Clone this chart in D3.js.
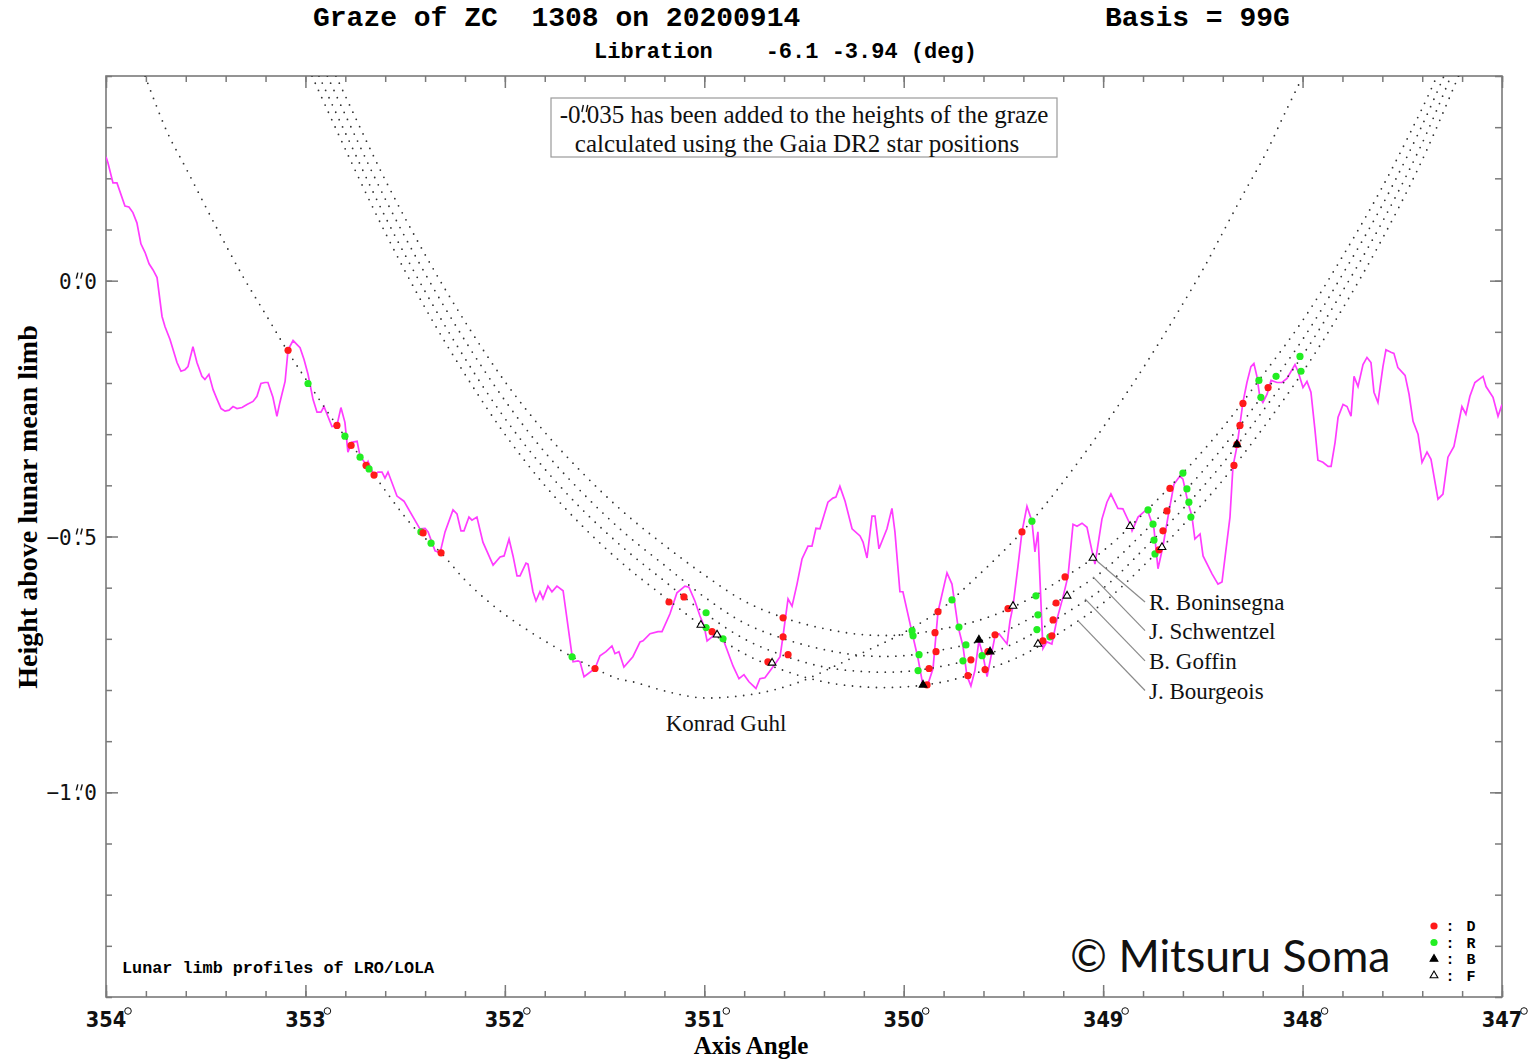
<!DOCTYPE html>
<html>
<head>
<meta charset="utf-8">
<script src="https://d3js.org/d3.v7.min.js"></script>
<style>
  body { margin: 0; background: #fff; }
  .mono { font-family: "Liberation Mono", "Courier New", monospace; font-weight: bold; }
  .serif { font-family: "Liberation Serif", "Times New Roman", serif; }
</style>
</head>
<body>
<script>
// ---- data (axis angle in deg, height in arcsec) ----
var limbProfile = [
  [354.000,0.242],[353.990,0.230],[353.965,0.191],[353.945,0.191],[353.905,0.146],[353.885,0.144],[353.865,0.133],
  [353.845,0.113],[353.825,0.072],[353.804,0.055],[353.784,0.033],[353.764,0.021],[353.744,0.006],[353.719,-0.070],
  [353.704,-0.090],[353.679,-0.115],[353.644,-0.160],[353.624,-0.177],[353.604,-0.174],[353.589,-0.168],[353.564,-0.129],
  [353.544,-0.160],[353.519,-0.187],[353.504,-0.193],[353.484,-0.183],[353.463,-0.213],[353.443,-0.232],[353.423,-0.250],
  [353.403,-0.255],[353.383,-0.253],[353.363,-0.246],[353.343,-0.250],[353.318,-0.248],[353.293,-0.242],[353.263,-0.236],
  [353.243,-0.226],[353.223,-0.201],[353.203,-0.199],[353.188,-0.199],[353.163,-0.228],[353.143,-0.265],[353.128,-0.238],
  [353.102,-0.197],[353.087,-0.135],[353.062,-0.117],[353.027,-0.131],[353.007,-0.154],[352.987,-0.183],[352.962,-0.232],
  [352.942,-0.257],[352.922,-0.257],[352.907,-0.246],[352.867,-0.285],[352.842,-0.283],[352.822,-0.248],[352.802,-0.277],
  [352.787,-0.335],[352.767,-0.316],[352.741,-0.314],[352.726,-0.343],[352.696,-0.359],[352.686,-0.353],[352.671,-0.368],
  [352.656,-0.380],[352.636,-0.374],[352.616,-0.374],[352.601,-0.386],[352.586,-0.374],[352.541,-0.421],[352.506,-0.431],
  [352.426,-0.485],[352.400,-0.484],[352.385,-0.491],[352.350,-0.528],[352.325,-0.532],[352.300,-0.491],[352.260,-0.448],
  [352.240,-0.456],[352.220,-0.489],[352.205,-0.489],[352.180,-0.462],[352.165,-0.468],[352.140,-0.462],[352.110,-0.511],
  [352.059,-0.556],[352.024,-0.540],[352.004,-0.538],[351.979,-0.505],[351.959,-0.538],[351.939,-0.577],[351.924,-0.577],
  [351.894,-0.552],[351.884,-0.554],[351.859,-0.608],[351.844,-0.626],[351.824,-0.608],[351.809,-0.622],[351.784,-0.597],
  [351.764,-0.608],[351.739,-0.597],[351.708,-0.606],[351.663,-0.733],[351.658,-0.745],[351.633,-0.743],[351.623,-0.745],
  [351.603,-0.774],[351.548,-0.758],[351.523,-0.733],[351.493,-0.725],[351.463,-0.714],[351.448,-0.729],[351.428,-0.725],
  [351.403,-0.755],[351.358,-0.735],[351.322,-0.706],[351.307,-0.704],[351.272,-0.690],[351.232,-0.686],[351.212,-0.686],
  [351.172,-0.651],[351.137,-0.610],[351.097,-0.597],[351.077,-0.599],[351.047,-0.626],[351.022,-0.655],[351.001,-0.675],
  [350.986,-0.704],[350.961,-0.696],[350.936,-0.686],[350.906,-0.700],[350.856,-0.753],[350.826,-0.778],[350.801,-0.770],
  [350.776,-0.784],[350.741,-0.797],[350.721,-0.778],[350.696,-0.776],[350.645,-0.749],[350.620,-0.735],[350.605,-0.694],
  [350.595,-0.665],[350.580,-0.622],[350.560,-0.636],[350.535,-0.593],[350.510,-0.544],[350.480,-0.519],[350.460,-0.519],
  [350.440,-0.484],[350.420,-0.485],[350.380,-0.433],[350.355,-0.425],[350.340,-0.423],[350.320,-0.402],[350.294,-0.431],
  [350.259,-0.485],[350.219,-0.499],[350.204,-0.511],[350.184,-0.542],[350.159,-0.460],[350.144,-0.460],[350.124,-0.524],
  [350.084,-0.485],[350.059,-0.445],[350.044,-0.491],[350.019,-0.608],[350.004,-0.608],[349.958,-0.688],[349.928,-0.739],
  [349.903,-0.792],[349.878,-0.788],[349.853,-0.758],[349.828,-0.647],[349.783,-0.571],[349.758,-0.593],[349.728,-0.675],
  [349.703,-0.714],[349.683,-0.772],[349.663,-0.792],[349.643,-0.762],[349.623,-0.704],[349.602,-0.733],[349.582,-0.774],
  [349.542,-0.694],[349.522,-0.690],[349.482,-0.710],[349.467,-0.665],[349.452,-0.636],[349.427,-0.558],[349.407,-0.491],
  [349.382,-0.441],[349.357,-0.470],[349.342,-0.530],[349.327,-0.491],[349.302,-0.719],[349.282,-0.706],[349.257,-0.710],
  [349.231,-0.661],[349.201,-0.618],[349.176,-0.577],[349.151,-0.476],[349.131,-0.480],[349.106,-0.474],[349.081,-0.482],
  [349.056,-0.528],[349.041,-0.554],[349.006,-0.466],[348.981,-0.433],[348.961,-0.417],[348.926,-0.445],[348.901,-0.446],
  [348.865,-0.476],[348.855,-0.489],[348.825,-0.462],[348.790,-0.450],[348.775,-0.452],[348.745,-0.485],[348.725,-0.563],
  [348.700,-0.519],[348.675,-0.462],[348.645,-0.398],[348.615,-0.382],[348.600,-0.388],[348.575,-0.433],[348.555,-0.460],
  [348.540,-0.505],[348.514,-0.495],[348.499,-0.538],[348.454,-0.573],[348.424,-0.593],[348.404,-0.589],[348.364,-0.462],
  [348.349,-0.363],[348.329,-0.324],[348.314,-0.281],[348.299,-0.238],[348.279,-0.199],[348.259,-0.168],[348.244,-0.162],
  [348.229,-0.187],[348.214,-0.228],[348.199,-0.238],[348.178,-0.222],[348.158,-0.195],[348.128,-0.199],[348.103,-0.199],
  [348.078,-0.191],[348.038,-0.164],[348.023,-0.177],[347.998,-0.209],[347.978,-0.197],[347.958,-0.218],[347.938,-0.291],
  [347.923,-0.351],[347.898,-0.355],[347.872,-0.363],[347.857,-0.363],[347.837,-0.316],[347.822,-0.267],[347.797,-0.242],
  [347.777,-0.246],[347.757,-0.265],[347.742,-0.187],[347.722,-0.207],[347.697,-0.164],[347.677,-0.150],[347.657,-0.160],
  [347.642,-0.218],[347.622,-0.238],[347.597,-0.168],[347.582,-0.135],[347.557,-0.140],[347.542,-0.142],[347.522,-0.170],
  [347.486,-0.185],[347.466,-0.222],[347.446,-0.275],[347.421,-0.300],[347.401,-0.355],[347.376,-0.335],[347.356,-0.349],
  [347.321,-0.427],[347.296,-0.417],[347.271,-0.345],[347.241,-0.324],[347.201,-0.246],[347.181,-0.261],[347.161,-0.226],
  [347.136,-0.199],[347.095,-0.187],[347.080,-0.207],[347.045,-0.228],[347.020,-0.265],[347.000,-0.242]
];

var guhlPath = [
  [353.804,0.400],[353.694,0.291],[353.594,0.216],[353.453,0.109],[353.313,0.008],[353.193,-0.070],[353.092,-0.136],
  [352.987,-0.199],[352.842,-0.283],[352.726,-0.343],[352.656,-0.380],[352.461,-0.480],[352.320,-0.532],[352.190,-0.589],
  [352.039,-0.641],[351.874,-0.686],[351.663,-0.735],[351.548,-0.758],[351.433,-0.778],[351.358,-0.784],[351.187,-0.803],
  [351.022,-0.815],[350.856,-0.813],[350.686,-0.803],[350.520,-0.784],[350.355,-0.755],[350.184,-0.723],[350.019,-0.692],
  [349.828,-0.647],[349.753,-0.622],[349.407,-0.491],[349.151,-0.368],[348.830,-0.189],[348.514,0.012],[348.414,0.084],
  [348.299,0.168],[348.188,0.246],[348.088,0.328],[348.003,0.396]
];

var boninsegnaPath = [
  [352.847,0.400],[352.8,0.361],[352.6,0.197],[352.4,0.051],[352.2,-0.080],[352.0,-0.197],[351.8,-0.296],[351.6,-0.380],
  [351.4,-0.454],[351.2,-0.517],[351.0,-0.575],[350.8,-0.626],[350.6,-0.659],[350.4,-0.680],[350.2,-0.692],[350.0,-0.692],
  [349.8,-0.680],[349.6,-0.661],[349.4,-0.628],[349.2,-0.581],[349.0,-0.528],[348.8,-0.456],[348.6,-0.376],[348.4,-0.287],
  [348.2,-0.185],[348.0,-0.078],[347.8,0.047],[347.6,0.183],[347.4,0.337],[347.326,0.400]
];
var schwentzelPath = [
  [352.890,0.400],[352.8,0.324],[352.6,0.160],[352.4,0.014],[352.2,-0.117],[352.0,-0.234],[351.8,-0.335],[351.6,-0.419],
  [351.4,-0.493],[351.2,-0.556],[351.0,-0.618],[350.8,-0.669],[350.6,-0.700],[350.4,-0.721],[350.2,-0.733],[350.0,-0.733],
  [349.8,-0.721],[349.6,-0.702],[349.4,-0.667],[349.2,-0.620],[349.0,-0.567],[348.8,-0.493],[348.6,-0.415],[348.4,-0.326],
  [348.2,-0.224],[348.0,-0.115],[347.8,0.012],[347.6,0.148],[347.4,0.304],[347.291,0.400]
];
var goffinPath = [
  [352.932,0.400],[352.8,0.289],[352.6,0.125],[352.4,-0.021],[352.2,-0.152],[352.0,-0.269],[351.8,-0.368],[351.6,-0.452],
  [351.4,-0.524],[351.2,-0.587],[351.0,-0.649],[350.8,-0.700],[350.6,-0.733],[350.4,-0.755],[350.2,-0.764],[350.0,-0.764],
  [349.8,-0.753],[349.6,-0.733],[349.4,-0.700],[349.2,-0.653],[349.0,-0.601],[348.8,-0.526],[348.6,-0.446],[348.4,-0.357],
  [348.2,-0.255],[348.0,-0.146],[347.8,-0.021],[347.6,0.115],[347.4,0.269],[347.256,0.400]
];
var bourgeoisPath = [
  [352.967,0.400],[352.8,0.257],[352.6,0.094],[352.4,-0.053],[352.2,-0.183],[352.0,-0.300],[351.8,-0.400],[351.6,-0.484],
  [351.4,-0.556],[351.2,-0.618],[351.0,-0.678],[350.8,-0.729],[350.6,-0.762],[350.4,-0.784],[350.2,-0.794],[350.0,-0.794],
  [349.8,-0.784],[349.6,-0.762],[349.4,-0.731],[349.2,-0.684],[349.0,-0.630],[348.8,-0.558],[348.6,-0.478],[348.4,-0.390],
  [348.2,-0.289],[348.0,-0.179],[347.8,-0.055],[347.6,0.082],[347.4,0.236],[347.218,0.400]
];

var observerNames = ["R. Boninsegna", "J. Schwentzel", "B. Goffin", "J. Bourgeois"];
var leaderFrom = [[349.031,-0.548],[349.051,-0.579],[349.091,-0.622],[349.126,-0.665]];
var leaderTo = [[348.790,-0.628],[348.790,-0.684],[348.790,-0.743],[348.790,-0.801]];

// event: [axis angle, height, type]  D disappearance, R reappearance, B blink, F flash
var events = [
  [353.087,-0.136,"D"],[352.987,-0.201,"R"],[352.842,-0.283,"D"],[352.802,-0.304,"R"],[352.771,-0.322,"D"],
  [352.726,-0.345,"R"],[352.696,-0.361,"D"],[352.681,-0.368,"R"],[352.656,-0.380,"D"],[352.421,-0.491,"R"],
  [352.410,-0.493,"D"],[352.370,-0.513,"R"],[352.320,-0.532,"D"],[351.663,-0.735,"R"],[351.548,-0.758,"D"],
  [351.177,-0.628,"D"],[351.102,-0.618,"D"],[350.991,-0.649,"R"],[351.017,-0.673,"F"],[350.991,-0.678,"R"],
  [350.961,-0.686,"D"],[350.936,-0.692,"F"],[350.906,-0.700,"R"],[350.605,-0.659,"D"],[350.605,-0.696,"D"],
  [350.580,-0.731,"D"],[350.681,-0.745,"D"],[350.660,-0.747,"F"],[349.958,-0.684,"R"],[349.953,-0.694,"R"],
  [349.923,-0.731,"R"],[349.928,-0.762,"R"],[349.883,-0.790,"D"],[349.903,-0.790,"B"],[349.873,-0.758,"D"],
  [349.838,-0.725,"D"],[349.843,-0.688,"D"],[349.828,-0.647,"D"],[349.758,-0.624,"R"],[349.723,-0.677,"R"],
  [349.688,-0.712,"R"],[349.703,-0.743,"R"],[349.678,-0.772,"D"],[349.663,-0.741,"D"],[349.623,-0.702,"B"],
  [349.607,-0.733,"R"],[349.592,-0.760,"D"],[349.578,-0.725,"D"],[349.567,-0.725,"B"],[349.542,-0.692,"D"],
  [349.477,-0.641,"D"],[349.452,-0.636,"F"],[349.407,-0.491,"D"],[349.357,-0.470,"R"],[349.337,-0.616,"R"],
  [349.327,-0.653,"R"],[349.332,-0.682,"R"],[349.302,-0.704,"D"],[349.327,-0.710,"F"],[349.267,-0.696,"R"],
  [349.257,-0.694,"D"],[349.251,-0.663,"D"],[349.236,-0.630,"D"],[349.191,-0.579,"D"],[349.181,-0.616,"F"],
  [349.051,-0.542,"F"],[348.865,-0.480,"F"],[348.775,-0.448,"R"],[348.750,-0.476,"R"],[348.745,-0.507,"R"],
  [348.740,-0.534,"R"],[348.665,-0.406,"D"],[348.680,-0.450,"D"],[348.700,-0.489,"D"],[348.720,-0.526,"D"],
  [348.705,-0.521,"F"],[348.600,-0.376,"R"],[348.580,-0.407,"R"],[348.570,-0.433,"R"],[348.560,-0.462,"R"],
  [348.344,-0.361,"D"],[348.329,-0.320,"D"],[348.329,-0.320,"B"],[348.314,-0.283,"D"],[348.299,-0.240,"D"],
  [348.219,-0.195,"R"],[348.209,-0.228,"R"],[348.173,-0.209,"D"],[348.133,-0.187,"R"],[348.013,-0.148,"R"],
  [348.008,-0.177,"R"]
];

var xMajorTicks = [354, 353, 352, 351, 350, 349, 348, 347];
var yMajorTicks = [0, -0.5, -1.0];
var legendTypes = ["D", "R", "B", "F"];

// ---- chart ----
var W = 1540, H = 1060;
var plot = {left: 106, right: 1502, top: 76, bottom: 997};

var x = d3.scaleLinear().domain([354, 347]).range([plot.left, plot.right]);
var y = d3.scaleLinear().domain([0.4, -1.4]).range([plot.top, plot.bottom]);

var svg = d3.select("body").append("svg")
    .attr("width", W).attr("height", H);
svg.append("rect").attr("width", W).attr("height", H).attr("fill", "#fff");

svg.append("defs").append("clipPath").attr("id", "clip")
  .append("rect")
    .attr("x", plot.left).attr("y", plot.top)
    .attr("width", plot.right - plot.left).attr("height", plot.bottom - plot.top);

// the ″ sign sitting over a decimal point: two short strokes above char i of a text node
function arcsecMark(textSel, i, lift, len) {
  var box = textSel.node().getExtentOfChar(i);
  var cx = box.x + box.width / 2 + 1, top = box.y + lift;
  [-2.2, 2.2].forEach(function(off){
    svg.append("line")
        .attr("x1", cx + off + 1).attr("y1", top)
        .attr("x2", cx + off - 0.5).attr("y2", top + len)
        .attr("stroke", "#111").attr("stroke-width", 1.4);
  });
}

// titles
svg.append("text").attr("class", "mono").attr("x", 313).attr("y", 26)
    .attr("font-size", 28).style("white-space", "pre")
    .text("Graze of ZC  1308 on 20200914");
svg.append("text").attr("class", "mono").attr("x", 1105).attr("y", 26)
    .attr("font-size", 28).style("white-space", "pre")
    .text("Basis = 99G");
svg.append("text").attr("class", "mono").attr("x", 594).attr("y", 58)
    .attr("font-size", 22).style("white-space", "pre")
    .text("Libration    -6.1 -3.94 (deg)");

// ticks on all four sides
var xMinor = d3.range(0, 36).map(function(i){ return 347 + i * 0.2; });
var yMinor = d3.range(0, 19).map(function(i){ return -1.4 + i * 0.1; });

function tickGroup(axis, tx, ty) {
  var g = svg.append("g").attr("transform", "translate(" + tx + "," + ty + ")").call(axis);
  g.select(".domain").remove();
  g.selectAll("line").attr("stroke", "#7a7a7a").attr("stroke-width", 1.5);
  g.selectAll("text").remove();
  return g;
}
tickGroup(d3.axisBottom(x).tickValues(xMinor).tickSize(-6), 0, plot.bottom);
tickGroup(d3.axisBottom(x).tickValues(xMajorTicks).tickSize(-12), 0, plot.bottom);
tickGroup(d3.axisTop(x).tickValues(xMinor).tickSize(-6), 0, plot.top);
tickGroup(d3.axisTop(x).tickValues(xMajorTicks).tickSize(-12), 0, plot.top);
tickGroup(d3.axisLeft(y).tickValues(yMinor).tickSize(-6), plot.left, 0);
tickGroup(d3.axisLeft(y).tickValues(yMajorTicks).tickSize(-12), plot.left, 0);
tickGroup(d3.axisRight(y).tickValues(yMinor).tickSize(-7), plot.right, 0);
tickGroup(d3.axisRight(y).tickValues(yMajorTicks).tickSize(-12), plot.right, 0);

svg.append("rect")
    .attr("x", plot.left).attr("y", plot.top)
    .attr("width", plot.right - plot.left).attr("height", plot.bottom - plot.top)
    .attr("fill", "none").attr("stroke", "#7a7a7a").attr("stroke-width", 1.6);

// x tick labels with degree sign
xMajorTicks.forEach(function(v){
  svg.append("text")
      .attr("x", x(v)).attr("y", 1027)
      .attr("text-anchor", "middle")
      .attr("font-family", "'Liberation Sans Narrow', 'DejaVu Sans Condensed', sans-serif")
      .attr("font-weight", "bold").attr("font-size", 21.5)
      .attr("fill", "#111")
      .text(v);
  svg.append("circle")
      .attr("cx", x(v) + 22).attr("cy", 1011).attr("r", 3.3)
      .attr("fill", "none").attr("stroke", "#111").attr("stroke-width", 1);
});

// y tick labels, arcsec mark above the decimal point
yMajorTicks.forEach(function(v){
  var s = (v < 0 ? "\u2212" : "") + d3.format(".1f")(Math.abs(v));
  var t = svg.append("text")
      .attr("x", 97).attr("y", y(v) + 8)
      .attr("text-anchor", "end")
      .attr("font-family", "'DejaVu Sans Mono', monospace")
      .attr("font-size", 21).attr("fill", "#111")
      .text(s);
  arcsecMark(t, s.indexOf("."), 3, 6);
});

// axis titles
svg.append("text").attr("class", "serif")
    .attr("transform", "translate(37," + 507 + ") rotate(-90)")
    .attr("text-anchor", "middle").attr("font-weight", "bold").attr("font-size", 28)
    .text("Height above lunar mean limb");
svg.append("text").attr("class", "serif")
    .attr("x", 751).attr("y", 1054)
    .attr("text-anchor", "middle").attr("font-weight", "bold").attr("font-size", 25)
    .text("Axis Angle");

// note box
svg.append("rect").attr("x", 551).attr("y", 98).attr("width", 506).attr("height", 59)
    .attr("fill", "#fff").attr("stroke", "#9a9a9a").attr("stroke-width", 1.2);
var noteText = "-0.035 has been added to the heights of the graze";
var note = svg.append("text").attr("class", "serif")
    .attr("x", 804).attr("y", 123).attr("text-anchor", "middle").attr("font-size", 25)
    .attr("fill", "#111")
    .text(noteText);
arcsecMark(note, noteText.indexOf("."), 4, 7);
svg.append("text").attr("class", "serif")
    .attr("x", 797).attr("y", 152).attr("text-anchor", "middle").attr("font-size", 25)
    .attr("fill", "#111")
    .text("calculated using the Gaia DR2 star positions");

// plot content
var content = svg.append("g").attr("clip-path", "url(#clip)");

var line = d3.line()
    .x(function(d){ return x(d[0]); })
    .y(function(d){ return y(d[1]); });
var smooth = d3.line()
    .x(function(d){ return x(d[0]); })
    .y(function(d){ return y(d[1]); })
    .curve(d3.curveCatmullRom.alpha(0.5));

content.append("path").datum(limbProfile)
    .attr("d", line)
    .attr("fill", "none").attr("stroke", "#ff3cff").attr("stroke-width", 1.7);

var paths = [guhlPath, boninsegnaPath, schwentzelPath, goffinPath, bourgeoisPath];
content.selectAll(".graze").data(paths).enter().append("path")
    .attr("class", "graze")
    .attr("d", smooth)
    .attr("fill", "none").attr("stroke", "#333")
    .attr("stroke-width", 1.8).attr("stroke-linecap", "round")
    .attr("stroke-dasharray", "0 8");

// leaders and labels
observerNames.forEach(function(name, i){
  svg.append("line")
      .attr("x1", x(leaderFrom[i][0])).attr("y1", y(leaderFrom[i][1]))
      .attr("x2", x(leaderTo[i][0])).attr("y2", y(leaderTo[i][1]))
      .attr("stroke", "#8a8a8a").attr("stroke-width", 1.2);
  svg.append("text").attr("class", "serif")
      .attr("x", x(leaderTo[i][0]) + 4).attr("y", y(leaderTo[i][1]) + 8)
      .attr("font-size", 23).attr("fill", "#111")
      .text(name);
});
svg.append("text").attr("class", "serif")
    .attr("x", 726).attr("y", 731).attr("text-anchor", "middle")
    .attr("font-size", 23).attr("fill", "#111")
    .text("Konrad Guhl");

// event markers
var colour = {D: "#ff1a1a", R: "#22ee22"};
var tri = d3.symbol().type(d3.symbolTriangle).size(26);
function drawMarker(g, type, cx, cy) {
  if (type === "D" || type === "R") {
    g.append("circle").attr("cx", cx).attr("cy", cy).attr("r", 3.6).attr("fill", colour[type]);
  } else {
    g.append("path").attr("d", tri)
        .attr("transform", "translate(" + cx + "," + cy + ")")
        .attr("fill", type === "B" ? "#000" : "#fff")
        .attr("stroke", "#000").attr("stroke-width", 1.1);
  }
}
var marks = content.append("g");
events.filter(function(e){ return e[2] === "D" || e[2] === "R"; }).forEach(function(e){
  drawMarker(marks, e[2], x(e[0]), y(e[1]));
});
events.filter(function(e){ return e[2] === "B" || e[2] === "F"; }).forEach(function(e){
  drawMarker(marks, e[2], x(e[0]), y(e[1]));
});

// legend
legendTypes.forEach(function(t, i){
  var ly = 926 + i * 16.5;
  drawMarker(svg, t, 1434, ly);
  svg.append("text").attr("class", "mono").attr("x", 1450).attr("y", ly + 5)
      .attr("text-anchor", "middle").attr("font-size", 15).text(":");
  svg.append("text").attr("class", "mono").attr("x", 1471).attr("y", ly + 5)
      .attr("text-anchor", "middle").attr("font-size", 15).text(t);
});

svg.append("text").attr("class", "mono")
    .attr("x", 122).attr("y", 973).attr("font-size", 16.8)
    .text("Lunar limb profiles of LRO/LOLA");

svg.append("text")
    .attr("x", 1070).attr("y", 972)
    .attr("font-family", "Lato, 'Open Sans', sans-serif").attr("font-size", 44.5)
    .attr("fill", "#111")
    .text("\u00a9 Mitsuru Soma");
</script>
</body>
</html>
